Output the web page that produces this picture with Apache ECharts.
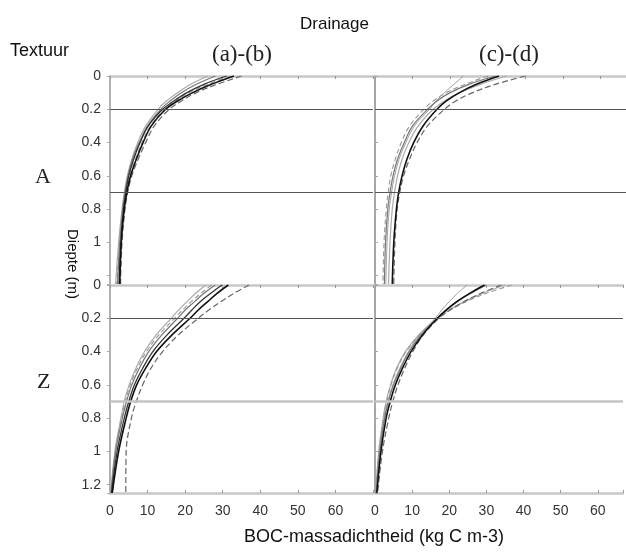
<!DOCTYPE html>
<html>
<head>
<meta charset="utf-8">
<script src="https://cdn.jsdelivr.net/npm/echarts@6/dist/echarts.min.js"></script>
<style>
html,body{margin:0;padding:0;background:#fff;}
#chart{width:626px;height:552px;}
</style>
</head>
<body>
<div id="chart"></div>
<script>
// Depth points (m) shared by all curves
const depths = [0, 0.05, 0.1, 0.15, 0.2, 0.3, 0.4, 0.5, 0.6, 0.7, 0.8, 1.0, 1.25];

// Panel A, drainage (a)-(b)
const A_ab_1 = [33, 27, 22, 18, 14.8, 11, 8.8, 7, 5.5, 4.5, 3.8, 3.0, 2.6];
const A_ab_2 = [31, 25, 20.5, 17, 14, 10.2, 8, 6.3, 5.0, 4.2, 3.6, 2.9, 2.4];
const A_ab_3 = [28, 23, 19, 16, 13.5, 10, 7.8, 6, 4.8, 4, 3.4, 2.6, 2.0];
const A_ab_4 = [35, 28.5, 23, 19, 15.8, 11.8, 9.5, 7.5, 5.8, 4.7, 4, 3.2, 2.8];
const A_ab_5 = [26, 21.5, 18, 15, 12.8, 9.5, 7.4, 5.8, 4.6, 3.8, 3.2, 2.3, 1.5];
const A_ab_6 = [32, 26, 21, 17.5, 14.5, 10.8, 8.5, 6.8, 5.3, 4.3, 3.6, 2.7, 1.8];

// Panel A, drainage (c)-(d)
const A_cd_1 = [33, 27, 22.5, 19, 16.5, 12.8, 10.3, 8.5, 7.2, 6.3, 5.7, 5.0, 4.6];
const A_cd_2 = [40, 32, 26, 21.5, 18.5, 14, 11.2, 9.2, 7.6, 6.6, 5.9, 5.3, 5.0];
const A_cd_3 = [32, 25, 20, 16.5, 14, 10, 7.8, 6, 4.8, 4, 3.4, 2.8, 2.5];
const A_cd_4 = [30, 24, 19, 15.5, 13, 9.2, 7, 5.4, 4.2, 3.5, 3.0, 2.4, 2.1];
const A_cd_5 = [35, 28, 22.5, 18.5, 15.5, 11.5, 9, 7.2, 6, 5.2, 4.6, 4.0, 3.6];
const A_cd_6 = [23.5, 21, 18.5, 16.3, 14.5, 10.5, 8.2, 6.4, 5.2, 4.4, 3.8, 3.2, 2.9];

// Panel Z, drainage (a)-(b)
const Z_ab_1 = [31.5, 28.5, 26, 23.5, 21.3, 16.5, 12.4, 9.5, 7.1, 5.5, 4.3, 2.3, 0.6];
const Z_ab_2 = [29.8, 26.8, 24, 21.8, 19.7, 15.2, 11.4, 8.7, 6.5, 5, 3.8, 1.9, 0.4];
const Z_ab_3 = [28, 25, 22.5, 20, 18, 13.8, 10.3, 7.8, 5.8, 4.4, 3.3, 1.5, 0.3];
const Z_ab_4 = [25.5, 22.8, 20.5, 18.3, 16.3, 12.3, 9.2, 6.9, 5.1, 3.8, 2.9, 1.3, 0.2];
const Z_ab_5 = [27, 24.2, 21.6, 19.3, 17.2, 13, 9.7, 7.3, 5.4, 4.1, 3.1, 1.6, 0.8];
const Z_ab_6 = [37, 33, 29.5, 26.3, 23.5, 18.2, 14, 10.9, 8.7, 7, 5.7, 4.3, 4.2];

// Panel Z, drainage (c)-(d)
const Z_cd_1 = [29.5, 25.5, 22, 19.2, 16.8, 12.8, 9.7, 7.4, 5.5, 4.1, 3.0, 1.6, 0.5];
const Z_cd_2 = [30, 25.8, 22.2, 19.3, 16.8, 12.4, 9.2, 6.9, 5.0, 3.6, 2.6, 1.3, 0.3];
const Z_cd_3 = [34, 28.5, 24, 20.2, 17.2, 13, 10.2, 8, 6.2, 4.8, 3.7, 2.0, 0.7];
const Z_cd_4 = [36.8, 30, 24.5, 20.3, 17, 12, 8.4, 6.0, 4.3, 3.2, 2.3, 1.1, 0.2];
const Z_cd_5 = [35, 29, 24, 20, 16.7, 11.8, 8.2, 5.8, 4.2, 3.0, 2.2, 1.0, 0.2];
const Z_cd_6 = [24.8, 22.2, 20, 18, 16.2, 12, 9, 6.7, 4.8, 3.5, 2.5, 1.2, 0.3];

// Reference depths (horizontal lines)
const refDepths = [0.2, 0.7];

// Tick labels
const xTickLabels = ['0', '10', '20', '30', '40', '50', '60'];
const yTickLabelsTop = ['0', '0.2', '0.4', '0.6', '0.8', '1'];
const yTickLabelsBottom = ['0', '0.2', '0.4', '0.6', '0.8', '1', '1.2'];

// ---------- styles (kept separate from data) ----------
const styleDefs = {
  dark:   {color: '#111', width: 1.6, type: 'solid'},
  dark2:  {color: '#333', width: 1.3, type: 'solid'},
  gray:   {color: '#777', width: 1.2, type: 'solid'},
  grayD:  {color: '#666', width: 1.2, type: [6, 3]},
  light:  {color: '#aaa', width: 1.2, type: 'solid'},
  lightD: {color: '#999', width: 1.1, type: [5, 3]},
  thin:   {color: '#888', width: 0.8, type: 'solid'}
};

const panels = [
  {curves: [[A_ab_5,'light'],[A_ab_6,'lightD'],[A_ab_3,'gray'],[A_ab_4,'grayD'],[A_ab_2,'dark2'],[A_ab_1,'dark']], top: true,  left: true},
  {curves: [[A_cd_6,'thin'],[A_cd_4,'lightD'],[A_cd_3,'gray'],[A_cd_5,'light'],[A_cd_2,'grayD'],[A_cd_1,'dark']], top: true,  left: false},
  {curves: [[Z_ab_4,'light'],[Z_ab_5,'lightD'],[Z_ab_3,'gray'],[Z_ab_6,'grayD'],[Z_ab_2,'dark2'],[Z_ab_1,'dark']], top: false, left: true},
  {curves: [[Z_cd_6,'thin'],[Z_cd_5,'light'],[Z_cd_4,'lightD'],[Z_cd_3,'grayD'],[Z_cd_2,'gray'],[Z_cd_1,'dark']], top: false, left: false}
];

const chart = echarts.init(document.getElementById('chart'), null, {renderer: 'canvas'});

const grids = [], xAxes = [], yAxes = [], series = [];
const gridPos = [
  {left: 110, top: 76, width: 263, height: 208},
  {left: 375, top: 76, width: 251, height: 208},
  {left: 110, top: 285, width: 263, height: 208},
  {left: 375, top: 285, width: 251, height: 208}
];
const xMax = [70, 66.8, 70, 66.8];

function xFmt(v) {
  const i = Math.round(v / 10);
  if (Math.abs(v - i * 10) > 1e-6) return '';
  return xTickLabels[i] !== undefined ? xTickLabels[i] : '';
}
function yFmtFactory(labels) {
  return function (v) {
    const i = Math.round(v / 0.2);
    if (Math.abs(v - i * 0.2) > 1e-6) return '';
    return labels[i] !== undefined ? labels[i] : '';
  };
}

panels.forEach((p, gi) => {
  grids.push(Object.assign({containLabel: false}, gridPos[gi]));
  // top x axis (line + ticks)
  const topAxisIndex = xAxes.length;
  xAxes.push({
    type: 'value', gridIndex: gi, position: 'top', min: 0, max: xMax[gi], interval: 10,
    axisLine: {show: true, onZero: false, lineStyle: {color: '#c8c8c8', width: 2.5}},
    axisTick: {show: true, inside: true, length: 3, lineStyle: {color: '#999'}},
    axisLabel: {show: false}, splitLine: {show: false}
  });
  if (!p.top) {
    xAxes.push({
      type: 'value', gridIndex: gi, position: 'bottom', min: 0, max: xMax[gi], interval: 10,
      axisLine: {show: true, onZero: false, lineStyle: {color: '#c8c8c8', width: 2.5}},
      axisTick: {show: true, inside: true, length: 3, lineStyle: {color: '#999'}},
      axisLabel: {show: true, formatter: xFmt, color: '#333', fontSize: 14, margin: 11,
                  fontFamily: 'Liberation Sans, Arial, sans-serif'},
      splitLine: {show: false}
    });
  }
  yAxes.push({
    type: 'value', gridIndex: gi, inverse: true, min: 0, max: 1.25, interval: 0.2,
    axisLine: {show: true, onZero: false, lineStyle: {color: p.left ? '#999' : '#888', width: 1.5}},
    axisTick: {show: true, length: 3, inside: !p.left, lineStyle: {color: '#aaa'}},
    axisLabel: {show: p.left, formatter: yFmtFactory(p.top ? yTickLabelsTop : yTickLabelsBottom),
                color: '#333', fontSize: 14, margin: 9, fontFamily: 'Liberation Sans, Arial, sans-serif'},
    splitLine: {show: false}
  });

  // reference lines
  series.push({
    type: 'line', xAxisIndex: topAxisIndex, yAxisIndex: gi, data: [], silent: true,
    markLine: {
      silent: true, symbol: 'none', label: {show: false}, animation: false,
      data: refDepths.map((d, k) => ({
        yAxis: d,
        lineStyle: (k === 1 && !p.top)
          ? {color: '#c4c4c4', width: 2.5, type: 'solid'}
          : {color: '#555', width: 1.2, type: 'solid'}
      }))
    }
  });

  p.curves.forEach(([vals, sk]) => {
    const s = styleDefs[sk];
    series.push({
      type: 'line', xAxisIndex: topAxisIndex, yAxisIndex: gi,
      data: depths.map((d, i) => [vals[i], d]),
      showSymbol: false, smooth: 0.35, animation: false, silent: true,
      lineStyle: {color: s.color, width: s.width, type: s.type}
    });
  });
});

const sans = 'Liberation Sans, Arial, sans-serif';
const serif = 'Liberation Serif, Times New Roman, serif';

chart.setOption({
  animation: false,
  backgroundColor: '#fff',
  grid: grids, xAxis: xAxes, yAxis: yAxes, series: series,
  graphic: [
    {type: 'text', left: 300, top: 16, style: {text: 'Drainage', font: '17px ' + sans, fill: '#111'}},
    {type: 'text', left: 10, top: 42, style: {text: 'Textuur', font: '18px ' + sans, fill: '#111'}},
    {type: 'text', left: 212, top: 43, style: {text: '(a)-(b)', font: '23px ' + serif, fill: '#222'}},
    {type: 'text', left: 479, top: 43, style: {text: '(c)-(d)', font: '23px ' + serif, fill: '#222'}},
    {type: 'text', left: 35, top: 166, style: {text: 'A', font: '22px ' + serif, fill: '#222'}},
    {type: 'text', left: 37, top: 371, style: {text: 'Z', font: '22px ' + serif, fill: '#222'}},
    {type: 'text', x: 72, y: 264, rotation: -Math.PI / 2,
     style: {text: 'Diepte (m)', font: '15px ' + sans, fill: '#111', textAlign: 'center', textVerticalAlign: 'middle'}},
    {type: 'text', left: 244, top: 528, style: {text: 'BOC-massadichtheid (kg C m-3)', font: '18px ' + sans, fill: '#111'}}
  ]
});
</script>
</body>
</html>
